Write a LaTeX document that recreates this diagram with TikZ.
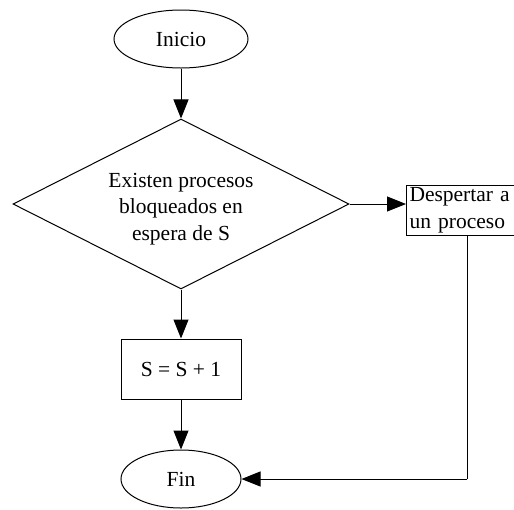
\documentclass[tikz,border=0pt]{standalone}
\usepackage{fontspec}
\setmainfont{Liberation Serif}
\usetikzlibrary{shapes.geometric,arrows.meta}
\begin{document}
\begin{tikzpicture}[x=1pt,y=-1pt,
  every node/.style={font=\fontsize{21.5}{26.5}\selectfont, line width=1pt},
  term/.style={draw, ellipse, inner sep=0pt},
  decision/.style={draw, diamond, aspect=2, inner sep=0pt,
    minimum width=336pt, minimum height=170pt},
  procbox/.style={draw, rectangle, inner sep=0pt, align=center},
  flow/.style={line width=1pt, -{Triangle[length=19pt,width=15pt]}},
  plain/.style={line width=1pt}]
  \useasboundingbox (0,0) rectangle (514,509);
  \clip (0,0) rectangle (514,509);
  \node[term, minimum width=134pt, minimum height=58pt] (inicio) at (181,39) {Inicio};
  \node[decision] (dec) at (181,204) {};
  \node[align=center, inner sep=0pt] (dectext) at (181,209)
    {Existen procesos\\bloqueados en\\espera de S};
  \node[procbox, minimum width=120pt, minimum height=60pt] (inc) at (181,369) {S = S + 1};
  \node[term, minimum width=120pt, minimum height=58pt] (fin) at (181,479) {Fin};
  \node[draw, rectangle, anchor=west, inner xsep=3pt, inner ysep=0pt,
    text width=124pt, align=left, minimum height=50pt] (wake) at (406,210)
    {Despertar a\\un proceso};
  \coordinate (corner) at (467,479);
  \draw[flow] (inicio) -- (dec);
  \draw[flow] (dec.east) -- (wake.west |- dec.east);
  \draw[flow] (dec) -- (inc);
  \draw[flow] (inc) -- (fin);
  \draw[plain] (wake.south -| corner) -- (corner);
  \draw[flow] (corner) -- (fin.east);
\end{tikzpicture}
\end{document}
